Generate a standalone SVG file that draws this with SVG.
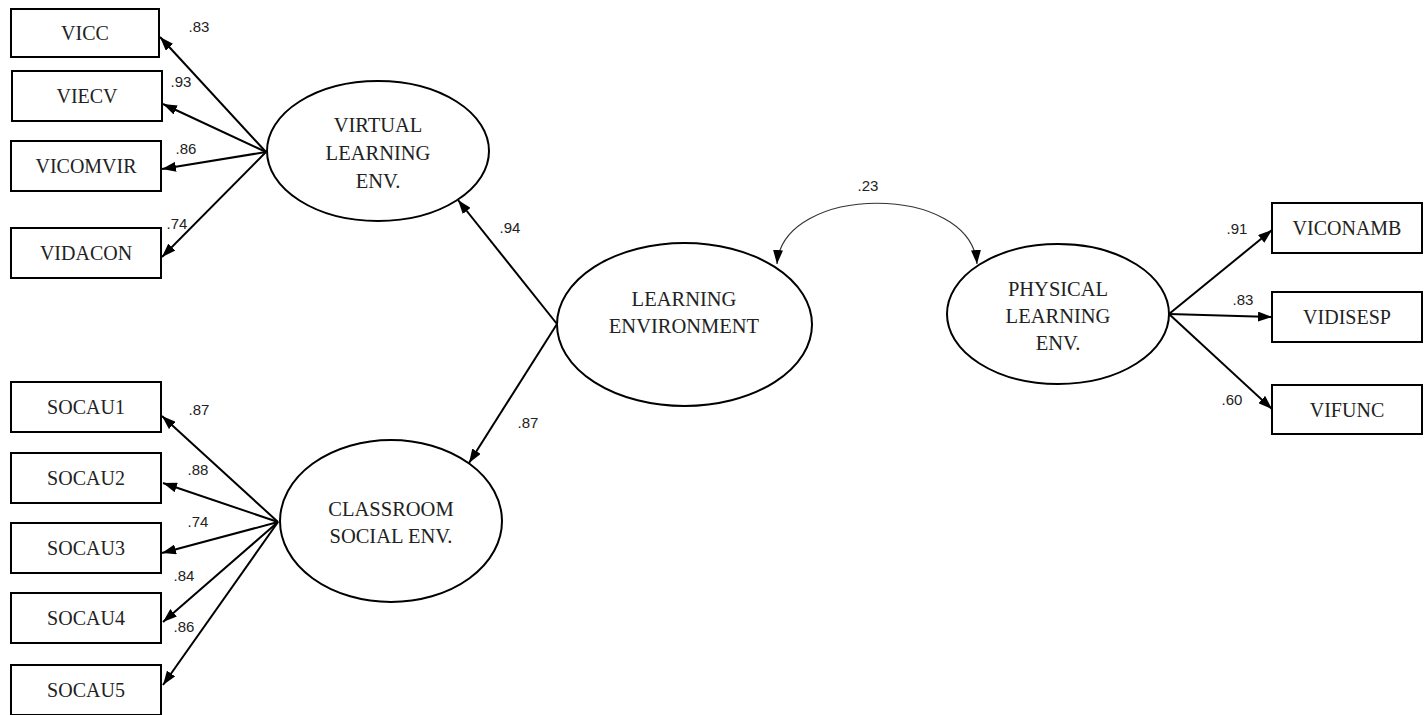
<svg xmlns="http://www.w3.org/2000/svg" width="1428" height="715" viewBox="0 0 1428 715">
<style>
.box{fill:#fff;stroke:#000;stroke-width:2}
.ell{fill:#fff;stroke:#000;stroke-width:2}
.bt{font-family:"Liberation Serif",serif;font-size:20px;fill:#222;text-anchor:middle}
.et{font-family:"Liberation Serif",serif;font-size:20.5px;fill:#222;text-anchor:middle}
.num{font-family:"Liberation Sans",sans-serif;font-size:15px;fill:#222;text-anchor:middle}
.c{stroke:#000;stroke-width:2;fill:none;marker-end:url(#ah)}
.cv{stroke:#333;stroke-width:1.2;fill:none;marker-start:url(#ahs);marker-end:url(#ahe)}
</style>
<defs>
<marker id="ah" viewBox="0 0 14 10" refX="14" refY="5" markerWidth="14" markerHeight="10" markerUnits="userSpaceOnUse" orient="auto"><path d="M0,0 L14,5 L0,10 Z" fill="#000"/></marker>
<marker id="ahe" viewBox="0 0 14 10" refX="14" refY="5" markerWidth="14" markerHeight="10" markerUnits="userSpaceOnUse" orient="auto"><path d="M0,0 L14,5 L0,10 Z" fill="#000"/></marker>
<marker id="ahs" viewBox="0 0 14 10" refX="0" refY="5" markerWidth="14" markerHeight="10" markerUnits="userSpaceOnUse" orient="auto"><path d="M14,0 L0,5 L14,10 Z" fill="#000"/></marker>
</defs>
<rect width="1428" height="715" fill="#fff"/>

<g id="connectors">
<line class="c" x1="266" y1="152" x2="160" y2="37"/>
<line class="c" x1="266" y1="152" x2="163" y2="104"/>
<line class="c" x1="266" y1="152" x2="162" y2="169"/>
<line class="c" x1="266" y1="152" x2="162" y2="257"/>
<line class="c" x1="278" y1="522" x2="162" y2="416"/>
<line class="c" x1="278" y1="522" x2="163" y2="483"/>
<line class="c" x1="278" y1="522" x2="162" y2="553"/>
<line class="c" x1="278" y1="522" x2="163" y2="622"/>
<line class="c" x1="278" y1="522" x2="163" y2="685"/>
<line class="c" x1="557" y1="324" x2="458" y2="200"/>
<line class="c" x1="557" y1="324" x2="469" y2="463"/>
<line class="c" x1="1169" y1="314" x2="1272" y2="230"/>
<line class="c" x1="1169" y1="314" x2="1272" y2="317"/>
<line class="c" x1="1169" y1="314" x2="1272" y2="409"/>
<path class="cv" d="M777,264 C783,183 971,183 977,264"/>
<text class="num" x="199" y="32">.83</text>
<text class="num" x="181" y="87">.93</text>
<text class="num" x="186" y="154">.86</text>
<text class="num" x="177" y="229">.74</text>
<text class="num" x="199" y="415">.87</text>
<text class="num" x="198" y="475">.88</text>
<text class="num" x="198" y="527">.74</text>
<text class="num" x="184" y="581">.84</text>
<text class="num" x="184" y="632">.86</text>
<text class="num" x="510" y="233">.94</text>
<text class="num" x="528" y="428">.87</text>
<text class="num" x="868" y="191">.23</text>
<text class="num" x="1237" y="234">.91</text>
<text class="num" x="1243" y="305">.83</text>
<text class="num" x="1232" y="405">.60</text>
</g>

<g id="n-vicc"><rect class="box" x="11" y="9" width="148" height="48"/><text class="bt" x="85" y="40">VICC</text></g>
<g id="n-viecv"><rect class="box" x="12" y="71" width="150" height="50"/><text class="bt" x="87" y="103">VIECV</text></g>
<g id="n-vicomvir"><rect class="box" x="11" y="141" width="150" height="50"/><text class="bt" x="86" y="173">VICOMVIR</text></g>
<g id="n-vidacon"><rect class="box" x="11" y="228" width="150" height="50"/><text class="bt" x="86" y="260">VIDACON</text></g>

<g id="n-socau1"><rect class="box" x="11" y="382" width="150" height="50"/><text class="bt" x="86" y="414">SOCAU1</text></g>
<g id="n-socau2"><rect class="box" x="11" y="453" width="150" height="50"/><text class="bt" x="86" y="485">SOCAU2</text></g>
<g id="n-socau3"><rect class="box" x="11" y="523" width="150" height="50"/><text class="bt" x="86" y="555">SOCAU3</text></g>
<g id="n-socau4"><rect class="box" x="11" y="593" width="150" height="50"/><text class="bt" x="86" y="625">SOCAU4</text></g>
<g id="n-socau5"><rect class="box" x="11" y="665" width="150" height="50"/><text class="bt" x="86" y="697">SOCAU5</text></g>

<g id="n-virtual"><ellipse class="ell" cx="378" cy="151" rx="111" ry="70"/>
<text class="et" x="378" y="132">VIRTUAL</text><text class="et" x="378" y="160">LEARNING</text><text class="et" x="378" y="188">ENV.</text></g>
<g id="n-classroom"><ellipse class="ell" cx="391" cy="521" rx="111" ry="81"/>
<text class="et" x="391" y="516">CLASSROOM</text><text class="et" x="391" y="543">SOCIAL ENV.</text></g>
<g id="n-learning"><ellipse class="ell" cx="684.5" cy="324.5" rx="127.5" ry="81.5"/>
<text class="et" x="684" y="306">LEARNING</text><text class="et" x="684" y="333">ENVIRONMENT</text></g>
<g id="n-physical"><ellipse class="ell" cx="1058" cy="314" rx="111" ry="70"/>
<text class="et" x="1058" y="296">PHYSICAL</text><text class="et" x="1058" y="323">LEARNING</text><text class="et" x="1058" y="350">ENV.</text></g>

<g id="n-viconamb"><rect class="box" x="1272" y="203" width="150" height="50"/><text class="bt" x="1347" y="235">VICONAMB</text></g>
<g id="n-vidisesp"><rect class="box" x="1272" y="292" width="150" height="50"/><text class="bt" x="1347" y="324">VIDISESP</text></g>
<g id="n-vifunc"><rect class="box" x="1272" y="385" width="150" height="49"/><text class="bt" x="1347" y="417">VIFUNC</text></g>
</svg>
